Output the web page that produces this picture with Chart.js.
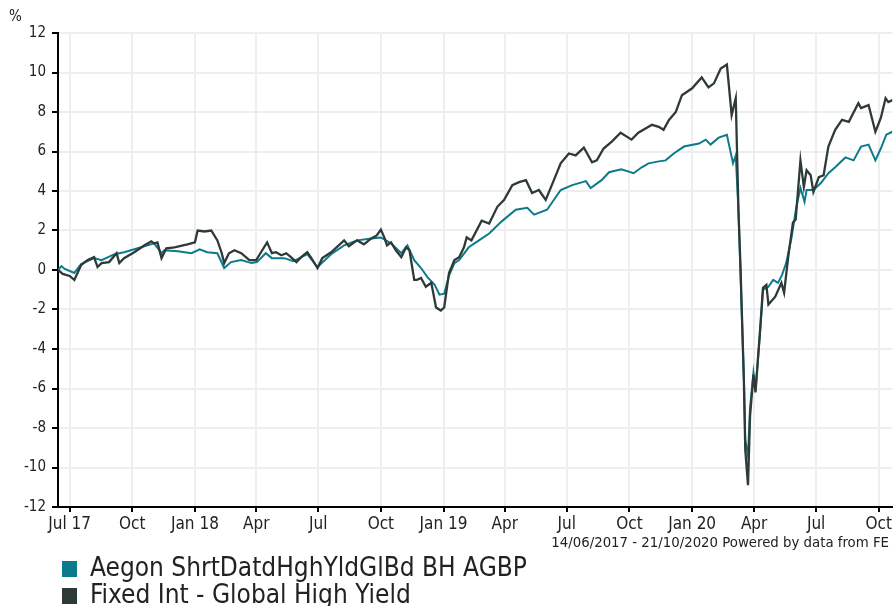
<!DOCTYPE html>
<html>
<head>
<meta charset="utf-8">
<script src="https://cdn.jsdelivr.net/npm/chart.js@4.4.1/dist/chart.umd.min.js"></script>
<style>
  html, body { margin: 0; padding: 0; background: #fff; }
  #wrap { position: relative; width: 894px; height: 606px; overflow: hidden;
    font-family: "DejaVu Sans Condensed", "Liberation Sans Narrow", "DejaVu Sans", sans-serif; color: #222; }
  #pct { position: absolute; left: 9px; top: 7px; font-size: 15px; }
  #source { position: absolute; right: 5px; top: 533px; font-size: 14.8px; }
  .leg { position: absolute; left: 62px; font-size: 26px; line-height: 27px; white-space: nowrap; }
  .leg span { display: inline-block; width: 15px; height: 16px; margin-right: 13px; vertical-align: -1px; }
</style>
</head>
<body>
<div id="wrap">
  <canvas id="my-canvas" width="894" height="606"></canvas>
  <div id="pct">%</div>
  <div id="source">14/06/2017 - 21/10/2020 Powered by data from FE</div>
  <div class="leg" style="top:554px"><span style="background:#0b7b8b"></span>Aegon ShrtDatdHghYldGlBd BH AGBP</div>
  <div class="leg" style="top:581px"><span style="background:#2e3a37"></span>Fixed Int - Global High Yield</div>
</div>
<script>
const START = '2017-06-14';
const END = '2020-10-21';

const tickDates = ['2017-07-01', '2017-10-01', '2018-01-01', '2018-04-01', '2018-07-01', '2018-10-01', '2019-01-01',
  '2019-04-01', '2019-07-01', '2019-10-01', '2020-01-01', '2020-04-01', '2020-07-01', '2020-10-01'];
const tickLabels = ['Jul 17', 'Oct', 'Jan 18', 'Apr', 'Jul', 'Oct', 'Jan 19', 'Apr', 'Jul', 'Oct', 'Jan 20', 'Apr', 'Jul', 'Oct'];

const fundDates = ['2017-06-14', '2017-06-19', '2017-06-24', '2017-07-08', '2017-07-18', '2017-08-06', '2017-08-17',
  '2017-09-05', '2017-09-19', '2017-10-09', '2017-11-02', '2017-11-13', '2017-11-17', '2017-12-07', '2017-12-27',
  '2018-01-08', '2018-01-19', '2018-02-03', '2018-02-13', '2018-02-23', '2018-03-10', '2018-03-25', '2018-04-02',
  '2018-04-15', '2018-04-24', '2018-05-12', '2018-05-26', '2018-06-15', '2018-06-30', '2018-07-20', '2018-08-08',
  '2018-08-27', '2018-09-17', '2018-10-01', '2018-10-16', '2018-10-31', '2018-11-09', '2018-11-19', '2018-11-29',
  '2018-12-08', '2018-12-19', '2018-12-26', '2019-01-02', '2019-01-09', '2019-01-17', '2019-01-24', '2019-02-07',
  '2019-02-22', '2019-03-09', '2019-03-27', '2019-04-17', '2019-05-04', '2019-05-14', '2019-06-02', '2019-06-22',
  '2019-07-09', '2019-07-29', '2019-08-05', '2019-08-21', '2019-09-01', '2019-09-19', '2019-10-07', '2019-10-19',
  '2019-10-29', '2019-11-13', '2019-11-23', '2019-12-05', '2019-12-20', '2020-01-11', '2020-01-21', '2020-01-28',
  '2020-02-09', '2020-02-21', '2020-03-01', '2020-03-05', '2020-03-09', '2020-03-17', '2020-03-19', '2020-03-23',
  '2020-03-26', '2020-03-31', '2020-04-03', '2020-04-10', '2020-04-14', '2020-04-22', '2020-04-29', '2020-05-06',
  '2020-05-12', '2020-05-18', '2020-05-26', '2020-06-02', '2020-06-08', '2020-06-14', '2020-06-17', '2020-06-27',
  '2020-07-08', '2020-07-19', '2020-07-29', '2020-08-13', '2020-08-25', '2020-09-05', '2020-09-16', '2020-09-26',
  '2020-10-04', '2020-10-12', '2020-10-21'];
const fundValues = [0, 0.2, 0.05, -0.15, 0.3, 0.6, 0.5,
  0.8, 0.9, 1.1, 1.35, 0.85, 1.0, 0.95, 0.85,
  1.05, 0.9, 0.85, 0.1, 0.4, 0.5, 0.35, 0.4,
  0.85, 0.6, 0.6, 0.45, 0.8, 0.15, 0.8, 1.25,
  1.5, 1.6, 1.65, 1.35, 0.85, 1.25, 0.5, 0.1,
  -0.35, -0.75, -1.25, -1.2, -0.3, 0.35, 0.5, 1.15,
  1.5, 1.85, 2.45, 3.05, 3.15, 2.8, 3.05, 4.05,
  4.3, 4.5, 4.15, 4.55, 4.95, 5.1, 4.9, 5.2,
  5.4, 5.5, 5.55, 5.9, 6.25, 6.4, 6.6, 6.35,
  6.7, 6.85, 5.4, 5.8, 3.0, -5.5, -8.6, -9.4,
  -7.0, -5.2, -6.1, -3.05, -1.0, -0.85, -0.5, -0.65,
  -0.25, 0.35, 1.65, 3.2, 4.15, 3.45, 4.05, 4.05,
  4.4, 4.9, 5.2, 5.7, 5.55, 6.25, 6.35, 5.55,
  6.15, 6.85, 7.0];

const sectorDates = ['2017-06-14', '2017-06-21', '2017-07-01', '2017-07-08', '2017-07-18', '2017-07-27', '2017-08-06',
  '2017-08-11', '2017-08-17', '2017-08-28', '2017-09-08', '2017-09-12', '2017-09-19', '2017-10-04', '2017-10-19',
  '2017-10-29', '2017-11-02', '2017-11-07', '2017-11-13', '2017-11-20', '2017-12-02', '2017-12-21', '2018-01-01',
  '2018-01-05', '2018-01-15', '2018-01-25', '2018-02-03', '2018-02-09', '2018-02-13', '2018-02-20', '2018-02-28',
  '2018-03-10', '2018-03-22', '2018-04-01', '2018-04-08', '2018-04-17', '2018-04-24', '2018-04-30', '2018-05-08',
  '2018-05-15', '2018-05-22', '2018-05-30', '2018-06-06', '2018-06-15', '2018-06-21', '2018-06-30', '2018-07-07',
  '2018-07-20', '2018-08-08', '2018-08-15', '2018-08-27', '2018-09-06', '2018-09-17', '2018-09-25', '2018-10-01',
  '2018-10-06', '2018-10-10', '2018-10-16', '2018-10-23', '2018-10-31', '2018-11-07', '2018-11-12', '2018-11-19',
  '2018-11-23', '2018-11-29', '2018-12-06', '2018-12-14', '2018-12-21', '2018-12-28', '2019-01-02', '2019-01-09',
  '2019-01-17', '2019-01-24', '2019-01-31', '2019-02-04', '2019-02-11', '2019-02-26', '2019-03-09', '2019-03-21',
  '2019-03-31', '2019-04-12', '2019-04-22', '2019-05-02', '2019-05-11', '2019-05-21', '2019-05-31', '2019-06-12',
  '2019-06-22', '2019-07-04', '2019-07-14', '2019-07-26', '2019-08-07', '2019-08-14', '2019-08-24', '2019-09-05',
  '2019-09-18', '2019-10-04', '2019-10-14', '2019-11-03', '2019-11-13', '2019-11-20', '2019-11-28', '2019-12-08',
  '2019-12-17', '2020-01-01', '2020-01-15', '2020-01-25', '2020-02-02', '2020-02-12', '2020-02-21', '2020-02-28',
  '2020-03-05', '2020-03-09', '2020-03-12', '2020-03-17', '2020-03-19', '2020-03-23', '2020-03-26', '2020-03-31',
  '2020-04-03', '2020-04-10', '2020-04-14', '2020-04-19', '2020-04-22', '2020-05-02', '2020-05-11', '2020-05-15',
  '2020-05-21', '2020-05-28', '2020-06-01', '2020-06-08', '2020-06-13', '2020-06-17', '2020-06-23', '2020-06-27',
  '2020-07-05', '2020-07-12', '2020-07-19', '2020-07-29', '2020-08-08', '2020-08-18', '2020-09-01', '2020-09-05',
  '2020-09-16', '2020-09-26', '2020-10-04', '2020-10-11', '2020-10-15', '2020-10-21'];
const sectorValues = [0, -0.2, -0.3, -0.5, 0.25, 0.5, 0.65,
  0.15, 0.35, 0.4, 0.85, 0.35, 0.6, 0.9, 1.25,
  1.45, 1.35, 1.4, 0.6, 1.1, 1.15, 1.3, 1.4,
  2.0, 1.95, 2.0, 1.5, 0.9, 0.35, 0.85, 1.0,
  0.85, 0.5, 0.5, 0.9, 1.4, 0.85, 0.9, 0.75,
  0.85, 0.65, 0.4, 0.65, 0.9, 0.6, 0.1, 0.6,
  0.9, 1.5, 1.2, 1.5, 1.3, 1.6, 1.75, 2.05,
  1.65, 1.25, 1.4, 1.0, 0.65, 1.15, 1.0, -0.5,
  -0.5, -0.4, -0.85, -0.65, -1.9, -2.05, -1.9, -0.15,
  0.5, 0.65, 1.15, 1.65, 1.5, 2.5, 2.35, 3.2,
  3.55, 4.3, 4.45, 4.55, 3.9, 4.05, 3.55, 4.55,
  5.4, 5.9, 5.8, 6.2, 5.45, 5.55, 6.15, 6.5,
  6.95, 6.6, 6.95, 7.35, 7.25, 7.1, 7.6, 8.0,
  8.85, 9.2, 9.75, 9.25, 9.45, 10.2, 10.4, 7.85,
  8.7, 3.0, 0.15, -5.7, -9.1, -10.9, -7.4, -5.3,
  -6.2, -2.9, -0.9, -0.75, -1.75, -1.35, -0.65, -1.15,
  0.65, 2.4, 2.55, 5.55, 4.2, 5.05, 4.8, 3.95,
  4.7, 4.8, 6.25, 7.1, 7.6, 7.5, 8.45, 8.2,
  8.35, 7.0, 7.7, 8.7, 8.5, 8.6];

const dayOf = d => (Date.parse(d) - Date.parse(START)) / 86400000;
const toPoints = (dates, values) => dates.map((d, i) => ({ x: dayOf(d), y: values[i] }));

const fontFamily = '"DejaVu Sans Condensed", "Liberation Sans Narrow", "DejaVu Sans", sans-serif';

new Chart('my-canvas', {
  type: 'line',
  data: {
    datasets: [
      {
        label: 'Aegon ShrtDatdHghYldGlBd BH AGBP',
        data: toPoints(fundDates, fundValues),
        borderColor: '#0b7b8b',
        borderWidth: 2,
        pointRadius: 0,
        order: 1,
      },
      {
        label: 'Fixed Int - Global High Yield',
        data: toPoints(sectorDates, sectorValues),
        borderColor: '#2e3a37',
        borderWidth: 2.3,
        pointRadius: 0,
        order: 0,
      },
    ],
  },
  options: {
    responsive: false,
    animation: false,
    devicePixelRatio: 1,
    layout: { padding: { top: 33, right: 0, bottom: 69, left: 0 } },
    plugins: { legend: { display: false }, tooltip: { enabled: false } },
    scales: {
      x: {
        type: 'linear',
        min: 0,
        max: dayOf(END),
        afterBuildTicks: scale => {
          scale.ticks = tickDates.map(d => ({ value: dayOf(d) }));
        },
        afterFit: scale => { scale.height = 30; },
        ticks: {
          autoSkip: false,
          maxRotation: 0,
          padding: 2,
          color: '#222',
          font: { family: fontFamily, size: 17 },
          callback: (value, index) => tickLabels[index],
        },
        grid: { color: '#eeeeee', lineWidth: 2, tickColor: '#000', tickLength: 5 },
        border: { color: '#000', width: 2 },
      },
      y: {
        min: -12,
        max: 12,
        afterFit: scale => { scale.width = 58; },
        ticks: { stepSize: 2, padding: 6, color: '#222', font: { family: fontFamily, size: 15 } },
        grid: { color: '#eeeeee', lineWidth: 2, tickColor: '#000', tickLength: 6 },
        border: { color: '#000', width: 2 },
      },
    },
  },
});
</script>
</body>
</html>
